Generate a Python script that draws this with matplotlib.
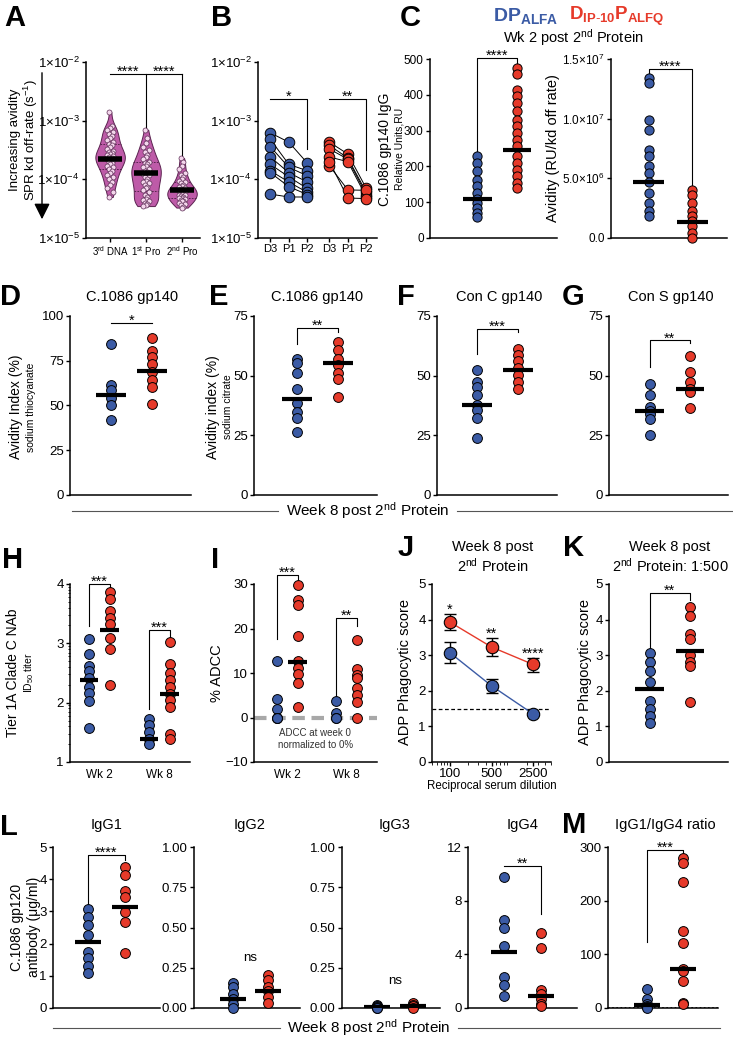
import numpy as np
import matplotlib
matplotlib.use('Agg')
import matplotlib.pyplot as plt
from matplotlib.lines import Line2D
from matplotlib.ticker import FixedLocator, FormatStrFormatter, NullFormatter

plt.rcParams['font.family'] = ['Liberation Sans', 'DejaVu Sans']
plt.rcParams['mathtext.fontset'] = 'custom'
plt.rcParams['mathtext.rm'] = 'Liberation Sans'
plt.rcParams['mathtext.it'] = 'Liberation Sans:italic'
plt.rcParams['mathtext.bf'] = 'Liberation Sans:bold'
plt.rcParams['mathtext.sf'] = 'Liberation Sans'

BLUE = '#3B5BA5'
RED = '#E63A2A'
VIOLIN = '#BE5BA8'

# ---- data ----
# A: SPR kd off-rate (units of 1e-4 s^-1)
a_labels = ['3$^{\\rm rd}$ DNA', '1$^{\\rm st}$ Pro', '2$^{\\rm nd}$ Pro']
a_dna3 = [14, 8, 7.5, 7, 6.5, 6, 5.5, 5, 4.6, 4.3, 4.0, 3.8, 3.5, 3.3, 3.1, 2.9, 2.8, 2.7, 2.6,
          2.5, 2.4, 2.3, 2.2, 2.2, 2.1, 2.0, 1.9, 1.8, 1.7, 1.6, 1.5, 1.4, 1.3, 1.2, 1.1, 1.0,
          0.9, 0.8, 0.7, 0.6, 0.5]
a_pro1 = [7, 5, 4.2, 3.6, 3.2, 2.9, 2.6, 2.4, 2.2, 2.0, 1.9, 1.8, 1.7, 1.6, 1.5, 1.4, 1.35, 1.3,
          1.25, 1.2, 1.1, 1.0, 0.95, 0.9, 0.85, 0.8, 0.75, 0.7, 0.65, 0.6, 0.55, 0.5, 0.47, 0.44,
          0.42, 0.4, 0.38, 0.36, 0.35]
a_pro2 = [2.3, 2.0, 1.7, 1.5, 1.3, 1.2, 1.1, 1.0, 0.95, 0.9, 0.85, 0.8, 0.77, 0.74, 0.71, 0.68,
          0.66, 0.65, 0.64, 0.62, 0.6, 0.58, 0.56, 0.55, 0.54, 0.52, 0.5, 0.49, 0.48, 0.46, 0.45,
          0.43, 0.42, 0.4, 0.38, 0.36, 0.34, 0.33]
a_medians = [2.2, 1.3, 0.65]

# B: per-animal D3, P1, P2 (units of 1e-4)
b_labels = ['D3', 'P1', 'P2', 'D3', 'P1', 'P2']
b_blue = [[6.2, 4.3, 1.9], [4.8, 1.8, 1.4], [3.6, 1.6, 1.15], [2.4, 1.3, 0.9],
          [1.8, 1.1, 0.7], [1.4, 0.9, 0.6], [1.3, 0.75, 0.55], [0.56, 0.5, 0.5]]
b_red = [[4.3, 2.7, 0.7], [3.8, 2.3, 0.6], [3.3, 2.2, 0.55], [2.4, 2.0, 0.5],
         [1.7, 0.66, 0.65], [2.0, 0.48, 0.47]]

# C
c_ru_blue = [228, 209, 186, 163, 144, 126, 110, 98, 84, 70, 60]
c_ru_red = [476, 459, 414, 396, 377, 354, 330, 312, 293, 275, 256, 228, 209, 191, 172, 154, 140]
c_ru_med = [110, 245]
c_av_blue = [1.34e7, 1.30e7, 9.86e6, 9.08e6, 7.4e6, 6.84e6, 6.0e6, 5.45e6, 4.66e6, 3.77e6,
             2.93e6, 2.23e6, 1.82e6]
c_av_red = [4.05e6, 3.63e6, 2.93e6, 2.23e6, 1.82e6, 1.4e6, 0.98e6, 0.42e6, 0.0]
c_av_med = [4.66e6, 1.35e6]

# D-G avidity index
d_blue = [84.6, 61.3, 58.6, 54.0, 50.3, 41.9]
d_red = [87.7, 80.3, 77.1, 73.0, 68.8, 64.1, 60.4, 50.6]
d_med = [55.8, 69.0]
e_blue = [56.9, 55.1, 51.3, 44.4, 38.4, 34.9, 32.1, 26.5]
e_red = [64.1, 60.6, 57.1, 54.4, 51.2, 48.4, 41.1]
e_med = [40.3, 55.1]
f_blue = [52.5, 47.4, 45.3, 41.8, 37.9, 35.5, 32.2, 23.8]
f_red = [61.0, 58.6, 56.1, 53.1, 50.3, 47.4, 44.6]
f_med = [37.9, 52.5]
g_blue = [46.3, 41.8, 37.0, 35.2, 34.0, 31.8, 25.3]
g_red = [58.3, 51.7, 47.4, 44.6, 43.3, 36.3]
g_med = [35.2, 44.6]

# H NAb titers
h_wk2_blue = [3.07, 2.82, 2.62, 2.53, 2.41, 2.27, 2.17, 2.03, 1.57]
h_wk2_red = [3.86, 3.74, 3.54, 3.43, 3.32, 3.09, 2.90, 2.30]
h_wk8_blue = [1.73, 1.62, 1.51, 1.39, 1.31]
h_wk8_red = [3.03, 2.65, 2.50, 2.38, 2.27, 2.15, 2.04, 1.92, 1.48, 1.38]
h_med = [2.39, 3.23, 1.39, 2.15]

# I ADCC
i_wk2_blue = [12.7, 4.1, 1.9, 0, 0, 0]
i_wk2_red = [29.8, 26.4, 25.3, 18.4, 12.7, 11.2, 9.7, 7.8, 2.4]
i_wk8_blue = [3.7, 1.1, 0, 0]
i_wk8_red = [17.4, 10.8, 9.6, 8.8, 6.7, 5.1, 3.4, 0]
i_med_wk2_red = 12.5

# J ADP dilution curve
j_dil = [100, 500, 2500]
j_red = [3.93, 3.23, 2.74]
j_red_lo = [3.72, 2.98, 2.54]
j_red_hi = [4.16, 3.49, 2.93]
j_blue = [3.07, 2.14, 1.35]
j_blue_lo = [2.77, 1.95, 1.33]
j_blue_hi = [3.38, 2.34, 1.37]
j_stars = ['*', '**', '****']

# K ADP 1:500
k_blue = [3.07, 2.81, 2.56, 2.26, 1.72, 1.49, 1.3, 1.09]
k_red = [4.34, 4.11, 3.60, 3.46, 3.0, 2.81, 2.70, 1.69]
k_med = [2.05, 3.13]

# L IgG subclasses, M ratio
igg1_blue = [3.07, 2.84, 2.58, 2.27, 1.75, 1.54, 1.3, 1.09]
igg1_red = [4.38, 4.14, 3.62, 3.46, 2.98, 2.68, 1.72]
igg1_med = [2.06, 3.14]
igg2_blue = [0.156, 0.131, 0.09, 0.058, 0.027, 0.0]
igg2_red = [0.204, 0.173, 0.131, 0.104, 0.069, 0.033]
igg2_med = [0.058, 0.104]
igg3_blue = [0.02, 0.012, 0.005, 0.0, 0.0]
igg3_red = [0.03, 0.02, 0.01, 0.0]
igg3_med = [0.005, 0.015]
igg4_blue = [9.8, 6.56, 5.94, 4.61, 2.32, 1.70, 0.87]
igg4_red = [5.56, 4.44, 1.32, 1.07, 0.70, 0.32, 0.15]
igg4_med = [4.19, 0.87]
m_blue = [36, 17, 8, 3, 1, 0]
m_red = [280, 271, 234, 143, 122, 73, 69, 50, 10, 7]
m_med = [5, 72]

# ---- figure helpers ----
W, H = 733, 1037
fig = plt.figure(figsize=(W / 100, H / 100), dpi=100)
TICK = 9.5
STAR = 10.5


def pax(x0, y0, x1, y1):
    return fig.add_axes([x0 / W, 1 - y1 / H, (x1 - x0) / W, (y1 - y0) / H])


def ftext(x, y, s, **kw):
    fig.text(x / W, 1 - y / H, s, **kw)


def style(ax, xt=False):
    for s in ['top', 'right']:
        ax.spines[s].set_visible(False)
    ax.spines['left'].set_linewidth(1.1)
    ax.spines['bottom'].set_linewidth(1.1)
    ax.tick_params(length=3, width=1, labelsize=TICK, pad=1.5)
    if not xt:
        ax.set_xticks([])


def dots(ax, x, vals, color, med=None, s=50, hw=0.36):
    ax.scatter(np.full(len(vals), x), vals, s=s, c=color, edgecolors='black',
               linewidths=0.7, zorder=3, clip_on=False)
    if med is not None:
        ax.plot([x - hw, x + hw], [med, med], color='black', lw=3, zorder=4,
                solid_capstyle='butt')


def star(ax, x, y, label, dy=-1.5, fs=STAR):
    ax.annotate(label, (x, y), xytext=(0, dy), textcoords='offset points', ha='center',
                va='baseline', fontsize=fs, annotation_clip=False)


def bracket(ax, x0, x1, y, yl, yr, label):
    ax.plot([x0, x0, x1, x1], [yl, y, y, yr], color='black', lw=0.8, clip_on=False)
    star(ax, (x0 + x1) / 2, y, label)


def letter(x, y, s):
    ftext(x, y, s, fontsize=21, fontweight='bold', ha='left', va='center')


def ylab2(x1, x2, y, main, sub, fs1=10, fs2=7.5):
    ftext(x1, y, main, rotation=90, ha='center', va='center', fontsize=fs1)
    if sub:
        ftext(x2, y, sub, rotation=90, ha='center', va='center', fontsize=fs2)


def sep_line(y, xa, xb, xc, xd):
    fig.add_artist(Line2D([xa / W, xb / W], [1 - y / H] * 2, color='#555555', lw=0.8))
    fig.add_artist(Line2D([xc / W, xd / W], [1 - y / H] * 2, color='#555555', lw=0.8))
    ftext((xb + xc) / 2, y, 'Week 8 post 2$^{\\rm nd}$ Protein', ha='center', va='center',
          fontsize=11)


logticks = [-5, -4, -3, -2]
loglabels = ['1×10$^{-5}$', '1×10$^{-4}$', '1×10$^{-3}$', '1×10$^{-2}$']

# ---- A ----
ax = pax(86, 62, 200, 238)
style(ax, xt=True)
a_log = [np.log10(np.array(g) * 1e-4) for g in (a_dna3, a_pro1, a_pro2)]
parts = ax.violinplot(a_log, positions=[0, 1, 2], widths=0.82, showextrema=False, bw_method=0.35)
for i, b in enumerate(parts['bodies']):
    b.set_facecolor(VIOLIN)
    b.set_edgecolor('#5b2350')
    b.set_linewidth(0.7)
    b.set_alpha(1)
    v = b.get_paths()[0].vertices
    right = v[v[:, 0] >= i]
    right = right[np.argsort(right[:, 1])]
    for q in (25, 75):
        yq = np.percentile(a_log[i], q)
        hw = np.interp(yq, right[:, 1], right[:, 0]) - i
        ax.plot([i - hw, i + hw], [yq, yq], color='#4a1d42', lw=0.6, ls=(0, (2, 1.5)), zorder=2)
    jit = np.tile([-0.04, 0.04, 0.0, -0.08, 0.08], 20)[:len(a_log[i])]
    ax.scatter(i + jit, a_log[i], s=13, facecolors='#F4D6EC', edgecolors='#5e2f57',
               linewidths=0.5, zorder=3)
    ax.plot([i - 0.33, i + 0.33], [np.log10(a_medians[i] * 1e-4)] * 2, color='black', lw=4,
            zorder=4, solid_capstyle='butt')
ax.set_ylim(-5, -2)
ax.set_xlim(-0.67, 2.5)
ax.set_yticks(logticks)
ax.set_yticklabels(loglabels)
ax.set_xticks([0, 1, 2])
ax.set_xticklabels(a_labels, fontsize=7)
lb = np.log10(6.2e-3)
ax.plot([0, 2], [lb, lb], color='black', lw=0.8)
ax.plot([1, 1], [lb, np.log10(7.5e-4)], color='black', lw=0.8)
ax.plot([2, 2], [lb, np.log10(2.5e-4)], color='black', lw=0.8)
star(ax, 0.5, lb, '****')
star(ax, 1.5, lb, '****')
ylab2(15, 31, 140, 'Increasing avidity', 'SPR kd off-rate (s$^{-1}$)', fs1=9.5, fs2=9.5)
fig.add_artist(matplotlib.patches.FancyArrowPatch(
    (42 / W, 1 - 70 / H), (42 / W, 1 - 222 / H), transform=fig.transFigure,
    arrowstyle='-|>,head_length=0.8,head_width=0.4', mutation_scale=12, lw=1, color='black'))
letter(4, 18, 'A')

# ---- B ----
ax = pax(258, 62, 377, 238)
style(ax, xt=True)
bx_blue = [0, 1, 2]
bx_red = [3.2, 4.2, 5.2]
for grp, xs, col in ((b_blue, bx_blue, BLUE), (b_red, bx_red, RED)):
    for an in grp:
        ly = np.log10(np.array(an) * 1e-4)
        ax.plot(xs, ly, color='black', lw=0.7, zorder=2)
        ax.scatter(xs, ly, s=58, c=col, edgecolors='black', linewidths=0.7, zorder=3)
ax.set_ylim(-5, -2)
ax.set_xlim(-0.67, 5.78)
ax.set_yticks(logticks)
ax.set_yticklabels(loglabels)
ax.set_xticks(bx_blue + bx_red)
ax.set_xticklabels(b_labels, fontsize=8)
y1 = -2.63
ax.plot([0, 2, 2], [y1, y1, np.log10(3.4e-4) - 0.02], color='black', lw=0.8)
star(ax, 1, y1, '*')
ax.plot([3.2, 5.2, 5.2], [y1, y1, np.log10(1.45e-4)], color='black', lw=0.8)
star(ax, 4.2, y1, '**')
letter(211, 18, 'B')

# ---- C ----
ax = pax(430, 59, 557, 238)
style(ax)
ax.tick_params(labelsize=8.5)
dots(ax, 0, c_ru_blue, BLUE, c_ru_med[0], s=44)
dots(ax, 1, c_ru_red, RED, c_ru_med[1], s=44)
ax.set_ylim(0, 500)
ax.set_xlim(-1.18, 2.0)
ax.set_yticks([0, 100, 200, 300, 400, 500])
bracket(ax, 0, 1, 504, 242, 490, '****')
ylab2(385, 399, 149, 'C.1086 gp140 IgG', 'Relative Units,RU', fs1=10, fs2=7.5)

ax = pax(611, 59, 727, 238)
style(ax)
dots(ax, 0, c_av_blue, BLUE, c_av_med[0], s=44)
dots(ax, 1, c_av_red, RED, c_av_med[1], s=44)
ax.set_ylim(0, 1.5e7)
ax.set_xlim(-0.88, 1.81)
ax.set_yticks([0, 5e6, 1e7, 1.5e7])
ax.set_yticklabels(['0.0', '5.0×10$^{6}$', '1.0×10$^{7}$', '1.5×10$^{7}$'], fontsize=8.5)
bracket(ax, 0, 1, 1.42e7, 1.37e7, 4.3e6, '****')
ftext(553, 148, 'Avidity (RU/kd off rate)', rotation=90, ha='center', va='center',
      fontsize=10.5)
letter(400, 18, 'C')
ftext(493, 16, '$\\mathbf{DP_{ALFA}}$', color=BLUE, fontsize=14, ha='left', va='center')
ftext(569, 16, '$\\mathbf{D_{IP\\text{-}10}P_{ALFQ}}$', color=RED, fontsize=13.5, ha='left',
      va='center')
ftext(573, 38, 'Wk 2 post 2$^{\\rm nd}$ Protein', ha='center', va='center', fontsize=10.5)

# ---- D-G ----
row2 = [
    (70, 191, (-1.0, 1.95), d_blue, d_red, d_med, 100, [0, 25, 50, 75, 100],
     (96.1, 96.1, 96.1, '*'), 'C.1086 gp140', 'D', 0),
    (254, 377, (-1.05, 1.95), e_blue, e_red, e_med, 75, [0, 25, 50, 75],
     (70.0, 63.4, 68.3, '**'), 'C.1086 gp140', 'E', 209),
    (437, 557, (-0.98, 1.95), f_blue, f_red, f_med, 75, [0, 25, 50, 75],
     (69.7, 59.2, 68.3, '***'), 'Con C gp140', 'F', 397),
    (609, 728, (-1.02, 1.95), g_blue, g_red, g_med, 75, [0, 25, 50, 75],
     (64.8, 53.7, 63.5, '**'), 'Con S gp140', 'G', 562),
]
for x0, x1, xl, bl, rd, md, top, ticks, br, title, let, lx in row2:
    ax = pax(x0, 316, x1, 495)
    style(ax)
    dots(ax, 0, bl, BLUE, md[0])
    dots(ax, 1, rd, RED, md[1])
    ax.set_ylim(0, top)
    ax.set_xlim(*xl)
    ax.set_yticks(ticks)
    bracket(ax, 0, 1, br[0], br[1], br[2], br[3])
    ftext((x0 + x1) / 2 + 2, 297, title, ha='center', va='center', fontsize=10.5)
    letter(lx, 297, let)
ylab2(16, 31, 407, 'Avidity Index (%)', 'sodium thiocyanate')
ylab2(213, 228, 407, 'Avidity index (%)', 'sodium citrate')
sep_line(511, 72, 278, 457, 733)

# ---- H ----
ax = pax(70, 584, 190, 762)
style(ax, xt=True)
hx = [0, 1, 2.93, 3.93]
for x, vals, col, m in zip(hx, (h_wk2_blue, h_wk2_red, h_wk8_blue, h_wk8_red),
                           (BLUE, RED, BLUE, RED), h_med):
    dots(ax, x, vals, col, m, hw=0.45)
ax.set_ylim(1, 4)
ax.set_xlim(-0.93, 4.93)
ax.set_yticks([1, 2, 3, 4])
ax.yaxis.set_minor_locator(FixedLocator(
    [n + np.log10(k) for n in (1, 2, 3) for k in range(2, 10)]))
ax.tick_params(axis='y', which='minor', length=1.8, width=0.6)
ax.set_xticks([0.5, 3.43])
ax.set_xticklabels(['Wk 2', 'Wk 8'], fontsize=8.5)
ax.tick_params(axis='x', length=0, pad=5)
bracket(ax, 0, 1, 4.0, 3.29, 3.92, '***')
bracket(ax, 2.93, 3.93, 3.23, 1.90, 3.11, '***')
ylab2(13, 29, 673, 'Tier 1A Clade C NAb', 'ID$_{50}$ titer', fs1=10, fs2=7.5)
letter(2, 560, 'H')

# ---- I ----
ax = pax(254, 584, 377, 762)
style(ax, xt=True)
ix = [0, 1, 2.86, 3.86]
ax.axhline(0, color='#A8A8A8', lw=3, ls=(0, (3, 1.6)), zorder=2)
dots(ax, ix[0], i_wk2_blue, BLUE)
dots(ax, ix[1], i_wk2_red, RED, i_med_wk2_red, hw=0.45)
dots(ax, ix[2], i_wk8_blue, BLUE)
dots(ax, ix[3], i_wk8_red, RED)
ax.set_ylim(-10, 30)
ax.set_xlim(-1.1, 4.81)
ax.set_yticks([-10, 0, 10, 20, 30])
ax.set_xticks([0.5, 3.36])
ax.set_xticklabels(['Wk 2', 'Wk 8'], fontsize=8.5)
ax.tick_params(axis='x', length=0, pad=5)
bracket(ax, 0, 1, 32, 17.7, 31, '***')
bracket(ax, 2.86, 3.86, 22.4, 4.6, 20.5, '**')
ax.text(1.85, -4.8, 'ADCC at week 0\nnormalized to 0%', ha='center', va='center',
        fontsize=7, color='#333333', linespacing=1.3)
ftext(217, 673, '% ADCC', rotation=90, ha='center', va='center', fontsize=10.5)
letter(211, 560, 'I')

# ---- J ----
ax = pax(432, 584, 551, 762)
style(ax, xt=True)
ax.set_xscale('log')
ax.axhline(1.5, color='black', lw=0.9, ls=(0, (3, 2)), zorder=1)
for mean, lo, hi, col in ((j_blue, j_blue_lo, j_blue_hi, BLUE), (j_red, j_red_lo, j_red_hi, RED)):
    mean = np.array(mean)
    ax.plot(j_dil, mean, color=col, lw=1, zorder=2)
    ax.errorbar(j_dil, mean, yerr=[mean - np.array(lo), np.array(hi) - mean], fmt='none',
                ecolor='black', elinewidth=1, capsize=4.5, capthick=1, zorder=3)
    ax.scatter(j_dil, mean, s=80, c=col, edgecolors='black', linewidths=0.8, zorder=4)
for d, hi, st in zip(j_dil, j_red_hi, j_stars):
    star(ax, d, hi, st, dy=0)
ax.set_xlim(50, 5000)
ax.set_ylim(0, 5)
ax.set_yticks([0, 1, 2, 3, 4, 5])
ax.set_xticks(j_dil)
ax.set_xticklabels(['100', '500', '2500'], fontsize=9.5)
ax.xaxis.set_minor_formatter(NullFormatter())
ax.tick_params(axis='x', which='minor', length=2)
ax.set_xlabel('Reciprocal serum dilution', fontsize=8.3, labelpad=0)
ftext(405, 672, 'ADP Phagocytic score', rotation=90, ha='center', va='center', fontsize=10.5)
ftext(493, 557, 'Week 8 post\n2$^{\\rm nd}$ Protein', ha='center', va='center', fontsize=10.5,
      linespacing=1.2)
letter(398, 548, 'J')

# ---- K ----
ax = pax(609, 584, 728, 762)
style(ax)
dots(ax, 0, k_blue, BLUE, k_med[0])
dots(ax, 1, k_red, RED, k_med[1])
ax.set_ylim(0, 5)
ax.set_xlim(-1.02, 1.95)
ax.set_yticks([0, 1, 2, 3, 4, 5])
bracket(ax, 0, 1, 4.75, 3.13, 4.55, '**')
ftext(585, 672, 'ADP Phagocytic score', rotation=90, ha='center', va='center', fontsize=10.5)
ftext(670, 557, 'Week 8 post\n2$^{\\rm nd}$ Protein: 1:500', ha='center', va='center',
      fontsize=10.5, linespacing=1.2)
letter(563, 548, 'K')

# ---- L / M ----
row4 = [
    (53, 160, (-0.95, 1.95), igg1_blue, igg1_red, igg1_med, 5, [0, 1, 2, 3, 4, 5], None, 'IgG1', 107),
    (194, 300, (-1.11, 1.91), igg2_blue, igg2_red, igg2_med, 1, [0, 0.25, 0.5, 0.75, 1.0], '%.2f', 'IgG2', 250),
    (342, 440, (-0.97, 1.75), igg3_blue, igg3_red, igg3_med, 1, [0, 0.25, 0.5, 0.75, 1.0], '%.2f', 'IgG3', 395),
    (468, 577, (-0.97, 1.97), igg4_blue, igg4_red, igg4_med, 12, [0, 4, 8, 12], None, 'IgG4', 523),
    (608, 718, (-1.08, 1.97), m_blue, m_red, m_med, 300, [0, 100, 200, 300], None, 'IgG1/IgG4 ratio', 665),
]
laxes = []
for x0, x1, xl, bl, rd, md, top, ticks, fmt, title, tx in row4:
    ax = pax(x0, 847, x1, 1008)
    style(ax)
    if title.startswith('IgG1/'):
        ax.axhline(0, color='black', lw=1.2, ls=(0, (1, 1.5)), zorder=1)
    dots(ax, 0, bl, BLUE, md[0])
    dots(ax, 1, rd, RED, md[1])
    ax.set_ylim(0, top)
    ax.set_xlim(*xl)
    ax.set_yticks(ticks)
    if fmt:
        ax.yaxis.set_major_formatter(FormatStrFormatter(fmt))
    ftext(tx, 825, title, ha='center', va='center', fontsize=10.5)
    laxes.append(ax)
bracket(laxes[0], 0, 1, 4.76, 3.2, 4.6, '****')
laxes[1].text(0.5, 0.31, 'ns', ha='center', va='center', fontsize=9.5)
laxes[2].text(0.5, 0.17, 'ns', ha='center', va='center', fontsize=9.5)
bracket(laxes[3], 0, 1, 10.6, 10.6, 7.0, '**')
bracket(laxes[4], 0, 1, 295, 123.5, 282, '***')
ylab2(17, 34, 927, 'C.1086 gp120', 'antibody (μg/ml)', fs1=10, fs2=10)
letter(0, 827, 'L')
letter(562, 825, 'M')
sep_line(1028, 53, 280, 458, 720)

fig.savefig('out.png', dpi=100)
